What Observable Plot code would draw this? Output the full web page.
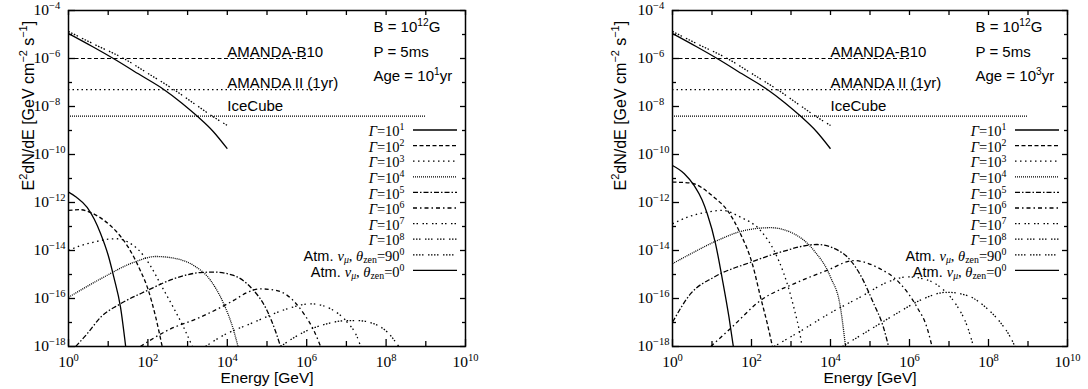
<!DOCTYPE html>
<html><head><meta charset="utf-8">
<script src="https://cdn.jsdelivr.net/npm/d3@7"></script>
<script src="https://cdn.jsdelivr.net/npm/@observablehq/plot@0.6"></script>
<style>
html,body{margin:0;padding:0;background:#fff;}
#wrap{display:flex;width:1088px;height:389px;overflow:hidden;}
svg{display:block;flex:none;}
</style></head><body><div id="wrap"></div>
<script>
// ---------- axis ticks ----------
const energyMajor = [1, 1e2, 1e4, 1e6, 1e8, 1e10];
const energyMinor = [1e1, 1e3, 1e5, 1e7, 1e9];
const fluxMajor = [1e-18, 1e-16, 1e-14, 1e-12, 1e-10, 1e-8, 1e-6, 1e-4];
const fluxMinor = [1e-17, 1e-15, 1e-13, 1e-11, 1e-9, 1e-7, 1e-5];

// ---------- series names (legend order) ----------
const seriesNames = ["g1","g2","g3","g4","g5","g6","g7","g8","atm90","atm0"];
const seriesLabels = ["#*Γ*=10^{1}#","#*Γ*=10^{2}#","#*Γ*=10^{3}#","#*Γ*=10^{4}#","#*Γ*=10^{5}#",
  "#*Γ*=10^{6}#","#*Γ*=10^{7}#","#*Γ*=10^{8}#","Atm. #*ν*_{*μ*}, *θ*_{zen}=90^{0}#","Atm. #*ν*_{*μ*}, *θ*_{zen}=0^{0}#"];

// ---------- curves: [log10 E (GeV), log10 E^2 dN/dE] ----------
// atmospheric (same in both panels)
const atm90 = [[0,-4.875],[0.7,-5.45],[1.39,-6.0],[2.0,-6.62],[2.65,-7.29],[3.2,-7.92],[3.62,-8.4],[4.0,-8.79]];
const atm0  = [[0,-4.96],[0.6,-5.5],[1.13,-6.0],[1.8,-6.68],[2.4,-7.29],[2.85,-7.85],[3.24,-8.4],[3.65,-9.05],[4.0,-9.76]];

// Age = 10^1 yr
const g1_age1 = [[0,-11.57],[0.2,-11.78],[0.47,-12.2],[0.65,-12.7],[0.81,-13.3],[1.0,-14.2],[1.14,-15.1],[1.31,-16.36],[1.44,-18]];
const g2_age1 = [[0,-12.33],[0.3,-12.3],[0.6,-12.45],[0.9,-12.75],[1.2,-13.2],[1.5,-13.85],[1.8,-14.8],[2.0,-15.6],[2.2,-16.8],[2.36,-18]];
const g3_age1 = [[0,-14.0],[0.3,-13.8],[0.64,-13.65],[1.0,-13.53],[1.23,-13.51],[1.5,-13.65],[1.75,-13.95],[2.05,-14.6],[2.35,-15.5],[2.65,-16.4],[2.9,-17.2],[3.12,-18]];
const g4_age1 = [[0,-15.95],[0.81,-15.18],[1.65,-14.49],[2.2,-14.25],[2.74,-14.35],[3.16,-14.63],[3.58,-15.25],[3.91,-16.22],[4.16,-17.33],[4.27,-18]];
const g5_age1 = [[0.18,-18],[0.47,-17.47],[0.81,-16.78],[1.31,-16.22],[1.98,-15.67],[2.65,-15.18],[3.32,-14.92],[3.66,-14.9],[4.16,-15.04],[4.6,-15.55],[5.0,-16.5],[5.2,-17.3],[5.34,-18]];
const g6_age1 = [[1.81,-18],[2.49,-17.33],[3.32,-16.78],[4.16,-16.08],[4.5,-15.75],[4.84,-15.6],[5.2,-15.65],[5.51,-15.87],[5.93,-16.64],[6.18,-17.33],[6.35,-18]];
const g7_age1 = [[3.45,-18],[3.83,-17.6],[4.67,-16.99],[5.51,-16.43],[6.1,-16.22],[6.6,-16.43],[7.02,-16.99],[7.27,-17.6],[7.36,-18]];
const g8_age1 = [[5.34,-18],[5.93,-17.4],[6.52,-17.05],[7.02,-16.92],[7.27,-16.92],[7.69,-17.05],[8.03,-17.4],[8.32,-18]];

// Age = 10^3 yr
const g1_age3 = [[0,-10.46],[0.3,-10.8],[0.55,-11.3],[0.75,-11.9],[0.88,-12.47],[1.09,-13.72],[1.26,-15.18],[1.43,-16.78],[1.54,-18]];
const g2_age3 = [[0,-11.15],[0.46,-11.19],[1.05,-11.78],[1.39,-12.33],[1.72,-13.3],[2.02,-14.55],[2.23,-15.95],[2.4,-17.05],[2.53,-18]];
const g3_age3 = [[0,-12.89],[0.38,-12.61],[0.88,-12.4],[1.26,-12.33],[1.72,-12.61],[2.23,-13.17],[2.57,-14.0],[2.82,-14.97],[3.07,-16.36],[3.24,-17.6],[3.28,-18]];
const g4_age3 = [[0,-14.55],[0.46,-14.14],[1.14,-13.58],[1.81,-13.17],[2.48,-13.05],[3.07,-13.3],[3.58,-14.0],[4.0,-15.11],[4.25,-16.36],[4.38,-18]];
const g5_age3 = [[0,-16.99],[0.46,-15.8],[1.05,-15.11],[1.98,-14.49],[2.73,-14.07],[3.66,-13.75],[4.3,-14.1],[4.75,-15.0],[5.09,-16.2],[5.34,-17.2],[5.47,-18]];
const g6_age3 = [[0.97,-18],[1.5,-17.2],[2.23,-16.08],[3.07,-15.39],[3.91,-14.83],[4.59,-14.42],[5.18,-14.7],[5.77,-15.39],[6.19,-16.36],[6.44,-17.2],[6.57,-18]];
const g7_age3 = [[2.57,-18],[3.2,-17.4],[4.0,-16.6],[4.8,-15.9],[5.4,-15.35],[5.95,-15.1],[6.4,-15.2],[6.9,-15.7],[7.2,-16.3],[7.45,-17.1],[7.62,-18]];
const g8_age3 = [[4.3,-18],[5.0,-17.3],[5.7,-16.6],[6.3,-16.05],[6.94,-15.74],[7.5,-15.9],[7.95,-16.4],[8.3,-17.0],[8.55,-17.6],[8.67,-18]];

// ---------- experimental limits ----------
const limitNames = ["AMANDA-B10", "AMANDA II (1yr)", "IceCube"];
const limitFlux  = [1e-6, 5e-8, 4e-9];
const limitEmax  = [1e6, 2e6, 1e9];
const limitLabelE = [1e4, 1e4, 1e4];

// ---------- panel parameters ----------
const panelParams = [["B = 10^{12}G", "P = 5ms", "Age = 10^{1}yr"], ["B = 10^{12}G", "P = 5ms", "Age = 10^{3}yr"]];
const panelCurves = [
  [g1_age1,g2_age1,g3_age1,g4_age1,g5_age1,g6_age1,g7_age1,g8_age1,atm90,atm0],
  [g1_age3,g2_age3,g3_age3,g4_age3,g5_age3,g6_age3,g7_age3,g8_age3,atm90,atm0]
];

// ---------- styles ----------
const dashes = [null, "4,2.5", "1.5,3.5", "1,1", "5,2,1.5,2", "4,3,1.5,3", "1.5,2,1.5,4.5",
  "1.5,1.5,1.5,1.5,1.5,4.5", "1.5,1.5,1.5,1.5,1.5,1.5,1.5,4.5", null];
const limitDashes = ["4,2.5", "1.5,3", "1,1"];
const limitLabelDy = [-2, -2, -5];
const SERIF = "'Liberation Serif', 'DejaVu Serif', serif";
const SANS = "'Liberation Sans', Arial, sans-serif";
const expLabel = v => "10^{" + Math.round(Math.log10(v)) + "}";
const pt = d => ({E: Math.pow(10, d[0]), F: Math.pow(10, d[1])});

// rich text: ^{..} sup, _{..} sub, *..* italic, #..# serif
function parseRich(s) {
  const segs = []; let italic = false, serif = false, buf = "", i = 0;
  const push = () => { if (buf) segs.push({t: buf, mode: 0, italic, serif}); buf = ""; };
  while (i < s.length) {
    const c = s[i];
    if ((c === "^" || c === "_") && s[i+1] === "{") {
      push();
      const j = s.indexOf("}", i);
      let inner = s.slice(i+2, j), it = italic;
      if (inner.startsWith("*") && inner.endsWith("*")) { inner = inner.slice(1, -1); it = true; }
      segs.push({t: inner, mode: c === "^" ? 1 : -1, italic: it, serif});
      i = j + 1; continue;
    }
    if (c === "*") { push(); italic = !italic; i++; continue; }
    if (c === "#") { push(); serif = !serif; i++; continue; }
    buf += c; i++;
  }
  push();
  return segs;
}
function applyRich(el, s) {
  const segs = parseRich(s);
  while (el.firstChild) el.removeChild(el.firstChild);
  let shift = 0;
  for (const g of segs) {
    const ts = document.createElementNS("http://www.w3.org/2000/svg", "tspan");
    const scale = g.mode ? 0.68 : 1;
    const want = g.mode === 1 ? -0.4 : g.mode === -1 ? 0.16 : 0;
    if (want !== shift) ts.setAttribute("dy", ((want - shift) / scale).toFixed(3) + "em");
    shift = want;
    if (g.mode) ts.setAttribute("font-size", "68%");
    if (g.italic) ts.setAttribute("font-style", "italic");
    if (g.serif) ts.setAttribute("font-family", SERIF);
    ts.textContent = g.t.replace(/-/g, "\u2212");
    el.appendChild(ts);
  }
}

function panel(k, mL, mR, yTitleDx) {
  const W = 544, H = 389, mT = 10, mB = 43;
  const pw = W - mL - mR, ph = H - mT - mB;
  const curves = panelCurves[k];
  const marks = [];
  // limits
  limitNames.forEach((name, i) => {
    marks.push(Plot.ruleY([limitFlux[i]], {x1: 1, x2: limitEmax[i], stroke: "black", strokeWidth: 1.2, strokeDasharray: limitDashes[i]}));
    marks.push(Plot.text([name], {x: limitLabelE[i], y: limitFlux[i], text: d => d, textAnchor: "start", lineAnchor: "bottom",
      dy: limitLabelDy[i], fontFamily: SANS, fontSize: 15, fill: "black"}));
  });
  // curves
  curves.forEach((c, i) => {
    marks.push(Plot.line(c.map(pt), {x: "E", y: "F", curve: "monotone-x", stroke: "black", strokeWidth: 1.3,
      strokeDasharray: dashes[i], strokeLinecap: "butt", clip: true}));
  });
  // ticks (inward)
  marks.push(Plot.ruleX(energyMajor, {insetTop: ph - 7, stroke: "black", strokeWidth: 1.3}));
  marks.push(Plot.ruleX(energyMinor, {insetTop: ph - 5, stroke: "black", strokeWidth: 1.3}));
  marks.push(Plot.ruleX(energyMajor.concat(energyMinor), {insetBottom: ph - 5, stroke: "black", strokeWidth: 1.3}));
  marks.push(Plot.ruleY(fluxMajor, {insetRight: pw - 7, stroke: "black", strokeWidth: 1.3}));
  marks.push(Plot.ruleY(fluxMinor, {insetRight: pw - 4, stroke: "black", strokeWidth: 1.3}));
  marks.push(Plot.ruleY(fluxMajor, {insetLeft: pw - 5, stroke: "black", strokeWidth: 1.3}));
  marks.push(Plot.ruleY(fluxMinor, {insetLeft: pw - 3, stroke: "black", strokeWidth: 1.3}));
  marks.push(Plot.frame({stroke: "black", strokeWidth: 1.5}));
  // tick labels
  marks.push(Plot.text(energyMajor, {x: d => d, frameAnchor: "bottom", dy: 16, lineAnchor: "middle", text: expLabel,
    fontFamily: SERIF, fontSize: 15.5, fill: "black"}));
  marks.push(Plot.text(fluxMajor, {y: d => d, frameAnchor: "left", dx: -35, textAnchor: "start", lineAnchor: "middle",
    text: expLabel, fontFamily: SERIF, fontSize: 15.5, fill: "black"}));
  // axis titles
  marks.push(Plot.text(["Energy [GeV]"], {frameAnchor: "bottom", dy: 32, lineAnchor: "middle", text: d => d,
    fontFamily: SANS, fontSize: 15.5, fill: "black"}));
  marks.push(Plot.text(["E^{2}dN/dE [GeV cm^{-2} s^{-1}]"], {frameAnchor: "left", dx: yTitleDx, dy: 12, rotate: -90,
    lineAnchor: "middle", text: d => d, fontFamily: SANS, fontSize: 16, fill: "black"}));
  // parameters
  panelParams[k].forEach((p, i) => {
    marks.push(Plot.text([p], {frameAnchor: "top-right", dx: -92, dy: 17 + i * 24.5, textAnchor: "start",
      lineAnchor: "middle", text: d => d, fontFamily: SANS, fontSize: 15, fill: "black"}));
  });
  // legend labels
  seriesLabels.forEach((lab, i) => {
    marks.push(Plot.text([lab], {frameAnchor: "top-right", dx: -61, dy: 121 + i * 15.6, textAnchor: "end",
      lineAnchor: "middle", text: d => d, fontFamily: SANS, fontSize: 14.5, fill: "black"}));
  });

  const svg = Plot.plot({
    width: W, height: H, marginLeft: mL, marginRight: mR, marginTop: mT, marginBottom: mB,
    style: {background: "white", fontFamily: SANS, fontSize: "13px", color: "black", overflow: "visible"},
    x: {type: "log", domain: [1, 1e10], axis: null},
    y: {type: "log", domain: [1e-18, 1e-4], axis: null},
    marks
  });
  // rich text
  svg.querySelectorAll("text").forEach(t => {
    const s = t.textContent;
    if (/[\^_*#]/.test(s)) applyRich(t, s);
  });
  // legend samples
  const g = d3.select(svg).append("g");
  seriesNames.forEach((n, i) => {
    const y = mT + 120 + i * 15.6;
    g.append("line").attr("x1", W - mR - 52).attr("x2", W - mR - 8).attr("y1", y).attr("y2", y)
      .attr("stroke", "black").attr("stroke-width", 1.3)
      .attr("stroke-dasharray", dashes[i]);
  });
  return svg;
}

const wrap = document.getElementById("wrap");
wrap.appendChild(panel(0, 68, 79, -40));
wrap.appendChild(panel(1, 128, 21, -52));
</script>
</body></html>
